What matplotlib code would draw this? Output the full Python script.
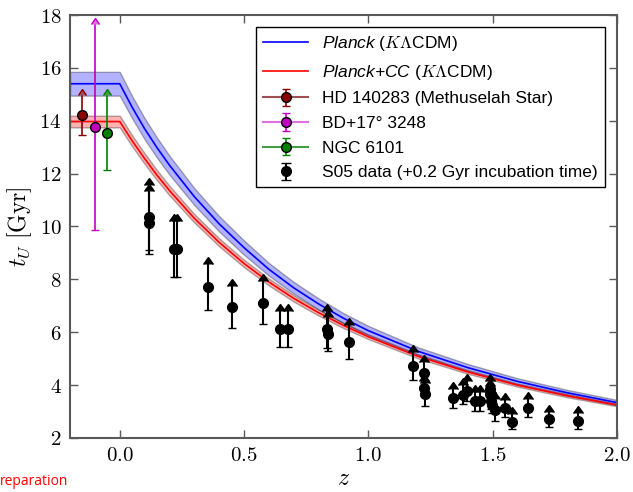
import matplotlib
matplotlib.use('Agg')
import matplotlib.pyplot as plt
import numpy as np

# model curves (age of the universe vs redshift)
model_z = [-0.2, 0.0, 0.05, 0.1, 0.15, 0.2, 0.3, 0.4, 0.5, 0.6, 0.7, 0.8, 0.9,
           1.0, 1.2, 1.4, 1.6, 1.8, 2.0]
planck_t = [15.40, 15.40, 14.51, 13.70, 12.98, 12.32, 11.13, 10.10, 9.20, 8.38,
            7.68, 7.07, 6.53, 6.06, 5.28, 4.66, 4.14, 3.71, 3.34]
planck_err = [0.45, 0.45, 0.42, 0.40, 0.38, 0.36, 0.32, 0.29, 0.27, 0.24,
              0.22, 0.21, 0.19, 0.18, 0.15, 0.14, 0.12, 0.11, 0.10]
planckcc_t = [13.97, 13.97, 13.24, 12.57, 11.94, 11.36, 10.31, 9.40, 8.60, 7.90,
              7.28, 6.74, 6.26, 5.83, 5.09, 4.50, 4.00, 3.60, 3.25]
planckcc_err = [0.22, 0.22, 0.21, 0.20, 0.19, 0.18, 0.16, 0.15, 0.14, 0.13,
                0.12, 0.11, 0.10, 0.09, 0.08, 0.07, 0.06, 0.06, 0.05]

# local old objects (plotted at negative z for display)
stars = ['HD 140283 (Methuselah Star)', 'BD+17° 3248', 'NGC 6101']
star_z = [-0.15, -0.10, -0.05]
star_t = [14.22, 13.75, 13.55]
star_err = [0.77, 3.9, 1.43]
star_colors = ['darkred', 'm', 'g']
star_line_colors = ['#a05050', '#e070e0', '#40a040']

# S05 passive galaxies (+0.2 Gyr incubation time)
s05_z = [0.117, 0.117, 0.218, 0.231, 0.356, 0.45, 0.575, 0.644, 0.676, 0.833,
         0.836, 0.922, 1.179, 1.222, 1.224, 1.226, 1.34, 1.38, 1.396, 1.43,
         1.45, 1.488, 1.49, 1.493, 1.497, 1.51, 1.55, 1.576, 1.642, 1.725, 1.845]
s05_t = [10.35, 10.15, 9.15, 9.15, 7.72, 6.95, 7.12, 6.13, 6.13, 6.11,
         5.92, 5.62, 4.72, 4.45, 3.88, 3.65, 3.50, 3.63, 3.78, 3.38,
         3.38, 3.85, 3.65, 3.40, 3.25, 3.06, 3.13, 2.62, 3.12, 2.71, 2.64]
s05_err = [1.23, 1.20, 1.05, 1.05, 0.87, 0.80, 0.82, 0.69, 0.69, 0.69,
           0.64, 0.64, 0.52, 0.44, 0.28, 0.43, 0.37, 0.36, 0.38, 0.35,
           0.35, 0.30, 0.30, 0.32, 0.30, 0.42, 0.32, 0.29, 0.34, 0.28, 0.30]

xticks = [0.0, 0.5, 1.0, 1.5, 2.0]
yticks = [2, 4, 6, 8, 10, 12, 14, 16, 18]

plt.rcParams['font.family'] = ['Liberation Sans', 'DejaVu Sans']
plt.rcParams['mathtext.fontset'] = 'custom'
plt.rcParams['mathtext.rm'] = 'cmr10'
plt.rcParams['mathtext.it'] = 'cmmi10'
plt.rcParams['mathtext.bf'] = 'cmb10'
plt.rcParams['mathtext.sf'] = 'Liberation Sans:italic'
plt.rcParams['axes.unicode_minus'] = False

fig = plt.figure(figsize=(6.33, 4.92), dpi=100)
ax = fig.add_axes([0.1106, 0.1098, 0.864, 0.8597])

mz = np.array(model_z)
pt, pe = np.array(planck_t), np.array(planck_err)
ct, ce = np.array(planckcc_t), np.array(planckcc_err)

ax.fill_between(mz, pt - pe, pt + pe, facecolor='b', edgecolor='k', alpha=0.3, lw=1)
ax.fill_between(mz, ct - ce, ct + ce, facecolor='r', edgecolor='k', alpha=0.3, lw=1)
ax.plot(mz, pt, color='b', lw=1.2, label=r'$\mathsf{Planck}$ ($K\Lambda$CDM)')
ax.plot(mz, ct, color='r', lw=1.2, label=r'$\mathsf{Planck{+}CC}$ ($K\Lambda$CDM)')

for name, z, t, e, c, lc in zip(stars, star_z, star_t, star_err, star_colors, star_line_colors):
    # lower half with a cap
    ax.errorbar([z], [t], yerr=[[e], [0]], fmt='none', ecolor=c,
                elinewidth=1.2, capsize=3, zorder=4)
    # upper half ending in an arrow (lower limit)
    ax.errorbar([z], [t], yerr=[e], lolims=True, fmt='-o', color=lc, ecolor=c,
                mfc=c, mec='k', ms=7, elinewidth=1.2, capsize=3, lw=1.5,
                label=name, zorder=4)

n = len(s05_z)
ax.errorbar(s05_z, s05_t, yerr=[s05_err, [0] * n], fmt='none', ecolor='k',
            elinewidth=1.5, capsize=3, zorder=5)
ax.errorbar(s05_z, s05_t, yerr=s05_err, lolims=True, fmt='o', color='k',
            ms=7, elinewidth=1.5, capsize=3.5,
            label='S05 data (+0.2 Gyr incubation time)', zorder=5)

ax.set_xlim(-0.2, 2.0)
ax.set_ylim(2, 18)
ax.set_xticks(xticks)
ax.set_xticklabels([f'${v:.1f}$' for v in xticks])
ax.set_yticks(yticks)
ax.set_yticklabels([f'${v}$' for v in yticks])
ax.tick_params(direction='in', length=6, width=1, color='0.35', top=True, right=True,
               labelsize=15, pad=6)
for sp in ax.spines.values():
    sp.set_color('0.35')
    sp.set_linewidth(1.5)

ax.set_xlabel(r'$z$', fontsize=17, labelpad=2)
ax.set_ylabel(r'$t_U\ \mathrm{[Gyr]}$', fontsize=17, labelpad=4)

leg = ax.legend(loc='upper right', fontsize=12.5, numpoints=1, fancybox=False,
                framealpha=1, edgecolor='k', handlelength=2.6, labelspacing=0.55,
                borderaxespad=0.7, handletextpad=0.8)
leg.get_frame().set_linewidth(1)

fig.text(0.0, 0.022, 'reparation', color='red', fontsize=10,
         family=['Open Sans', 'DejaVu Sans'], ha='left', va='center')

fig.savefig('out.png', dpi=100)
